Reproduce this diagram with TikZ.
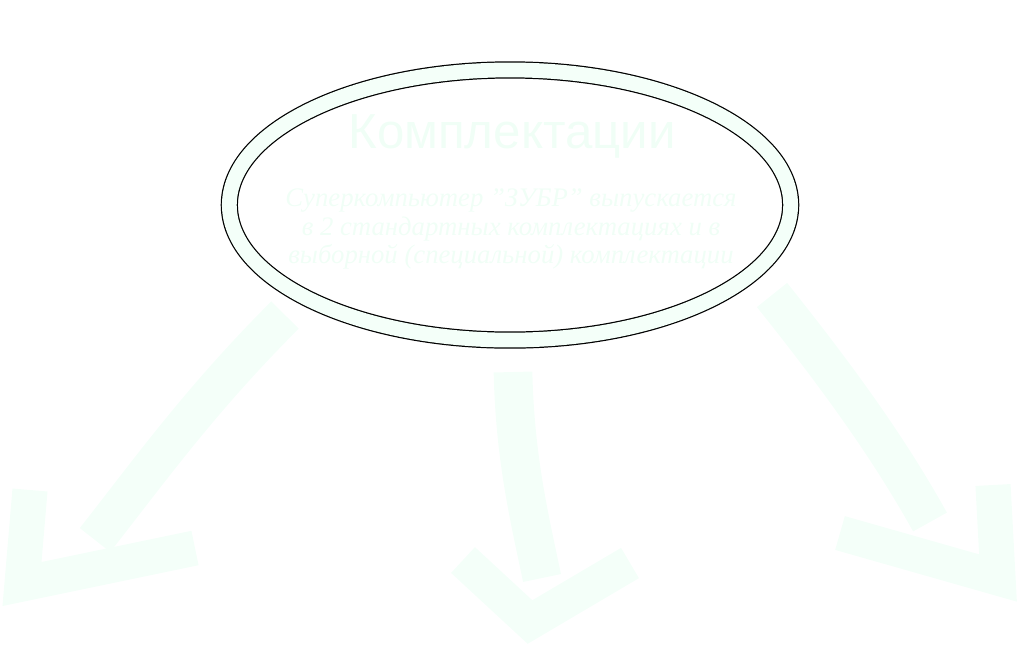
\documentclass[tikz,border=0pt]{standalone}
\usepackage{fontspec}
\setmainfont{Liberation Serif}
\newfontfamily\titlefont{Liberation Sans}
\usetikzlibrary{shapes.geometric}
\definecolor{mint}{RGB}{244,255,249}
\definecolor{minttext}{RGB}{240,254,246}
\tikzset{
  band/.style={ellipse, draw=black, line width=0.35pt, double=mint, double distance=4.2pt,
    minimum width=5.61cm, minimum height=2.70cm, inner sep=0pt},
  brush/.style={draw=mint, line width=11pt, line cap=butt, line join=round},
  brushhead/.style={draw=mint, line width=10pt, line cap=butt, line join=miter},
  titletext/.style={text=minttext, font=\titlefont\fontsize{14}{15}\selectfont},
  bodytext/.style={text=minttext, align=center, font=\itshape\fontsize{7.6}{8.0}\selectfont}
}
\begin{document}
\begin{tikzpicture}[x=0.01cm, y=-0.01cm]
\useasboundingbox (0,0) rectangle (1024,663);
% arrows
\coordinate (l1) at (285,315);
\coordinate (l2) at (95,540);
\coordinate (la) at (30,490);
\coordinate (lt) at (22,584);
\coordinate (lb) at (195,548);
\draw[brush] (l1) .. controls (200,400) and (150,470) .. (l2);
\draw[brushhead] (la) -- (lt) -- (lb);
\coordinate (m1) at (513,372);
\coordinate (m2) at (542,578);
\coordinate (ma) at (463,560);
\coordinate (mt) at (530,622);
\coordinate (mb) at (630,563);
\draw[brush] (m1) .. controls (515,460) and (530,520) .. (m2);
\draw[brushhead] (ma) -- (mt) -- (mb);
\coordinate (r1) at (772,295);
\coordinate (r2) at (930,522);
\coordinate (ra) at (993,485);
\coordinate (rt) at (998,578);
\coordinate (rb) at (840,533);
\draw[brush] (r1) .. controls (840,380) and (890,450) .. (r2);
\draw[brushhead] (ra) -- (rt) -- (rb);
% ellipse
\node[band] (ell) at (510,205) {};
\node[titletext] (title) at (512,136) {Комплектации};
\node[bodytext] (body) at (511,229) {Суперкомпьютер "ЗУБР" выпускается\\в 2 стандартных комплектациях и в\\выборной (специальной) комплектации};
\end{tikzpicture}
\end{document}
